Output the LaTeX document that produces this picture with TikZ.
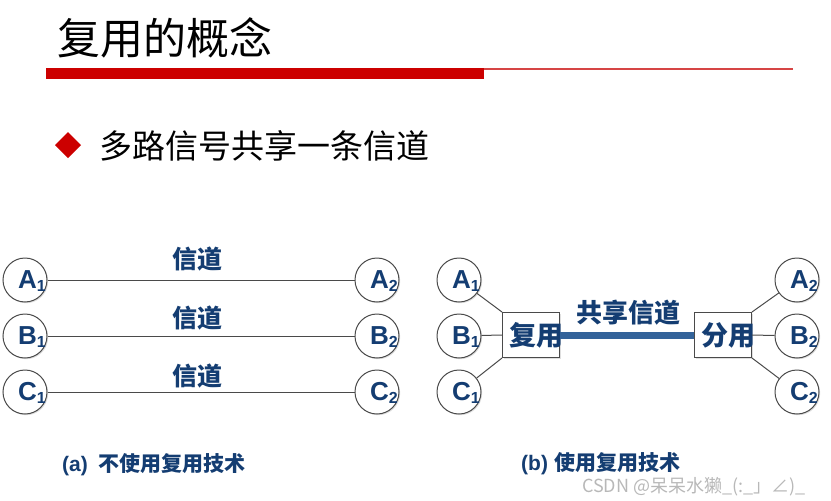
\documentclass[tikz,border=0pt]{standalone}
\usepackage{fontspec}
\setmainfont{Liberation Sans}
\newfontfamily\cjk{Noto Sans CJK SC}
\usetikzlibrary{shadows}
\definecolor{navy}{HTML}{143D72}
\definecolor{titlered}{HTML}{CC0000}
\definecolor{thinred}{HTML}{D64545}
\definecolor{chan}{HTML}{33639A}
\definecolor{edge}{HTML}{4A4A4A}
\definecolor{wm}{HTML}{B8B8B8}
\tikzset{
  term/.style={circle, draw=edge, line width=1pt, fill=white, minimum size=44pt, inner sep=0pt,
    drop shadow={opacity=0.25, shadow xshift=1.2pt, shadow yshift=-1.2pt}},
  lbl/.style={inner sep=0pt, anchor=base west, text=navy, font=\bfseries\fontsize{26}{26}\selectfont},
  conn/.style={draw=edge, line width=1pt},
  box/.style={draw=edge, line width=1pt, fill=white, minimum width=57pt, minimum height=45pt, inner sep=0pt,
    drop shadow={opacity=0.25, shadow xshift=1.2pt, shadow yshift=-1.2pt}},
  boxtext/.style={inner sep=0pt, text=navy, font=\cjk\bfseries\fontsize{27}{27}\selectfont},
  chlabel/.style={inner sep=0pt, anchor=base, text=navy, font=\cjk\bfseries\fontsize{25}{25}\selectfont},
  caption/.style={inner sep=0pt, anchor=base west, text=navy, font=\bfseries\fontsize{21}{21}\selectfont},
}
\newcommand{\tl}[2]{#1\raisebox{-3pt}{\fontsize{16}{16}\selectfont #2}}
\begin{document}
\begin{tikzpicture}[x=1pt,y=-1pt]
\useasboundingbox (0,0) rectangle (831,501);
% title
\node[inner sep=0pt, anchor=base west, font=\cjk\fontsize{43}{43}\selectfont] (title) at (57,54) {复用的概念};
\fill[titlered] (46,68) rectangle (484,79);
\draw[thinred, line width=1.3pt] (484,69) -- (793,69);
% bullet
\fill[titlered] (55,145) -- (68,132) -- (81,145) -- (68,158) -- cycle;
\node[inner sep=0pt, anchor=base west, font=\cjk\fontsize{33}{33}\selectfont] (bullet) at (99,158) {多路信号共享一条信道};

% ---------- (a) ----------
\foreach \n/\y in {A/280,B/336,C/392}{
  \node[term] (\n L1) at (25,\y) {};
  \node[term] (\n L2) at (377,\y) {};
}
\foreach \n in {A,B,C}{
  \draw[conn] (\n L1) -- (\n L2);
}
\node[lbl] (tA1) at (18,288) {\tl{A}{1}};
\node[lbl] (tB1) at (18,344) {\tl{B}{1}};
\node[lbl] (tC1) at (18,400) {\tl{C}{1}};
\node[lbl] (tA2) at (370,288) {\tl{A}{2}};
\node[lbl] (tB2) at (370,344) {\tl{B}{2}};
\node[lbl] (tC2) at (370,400) {\tl{C}{2}};
\node[chlabel] (ch1) at (197,268) {信道};
\node[chlabel] (ch2) at (197,327) {信道};
\node[chlabel] (ch3) at (197,385) {信道};
\node[caption] (capa) at (62,471) {(a)\hspace{11pt}{\cjk 不使用复用技术}};

% ---------- (b) ----------
\foreach \n/\y in {A/280,B/336,C/392}{
  \node[term] (\n R1) at (459,\y) {};
  \node[term] (\n R2) at (797,\y) {};
}
\node[box] (mux) at (531,335) {};
\node[box] (demux) at (723,335) {};
\node[boxtext] (muxt) at (536,335) {复用};
\node[boxtext] (demuxt) at (728,335) {分用};
\draw[chan, line width=7pt] (mux.east) -- (demux.west);
\draw[conn] (AR1) -- (mux.north west);
\draw[conn] (BR1) -- (mux.west);
\draw[conn] (CR1) -- (mux.south west);
\draw[conn] (AR2) -- (demux.north east);
\draw[conn] (BR2) -- (demux.east);
\draw[conn] (CR2) -- (demux.south east);
\node[lbl] (uA1) at (452,288) {\tl{A}{1}};
\node[lbl] (uB1) at (452,344) {\tl{B}{1}};
\node[lbl] (uC1) at (452,400) {\tl{C}{1}};
\node[lbl] (uA2) at (790,288) {\tl{A}{2}};
\node[lbl] (uB2) at (790,344) {\tl{B}{2}};
\node[lbl] (uC2) at (790,400) {\tl{C}{2}};
\node[chlabel, font=\cjk\bfseries\fontsize{26}{26}\selectfont] (share) at (628,322) {共享信道};
\node[caption] (capb) at (521,470) {(b)\hspace{6pt}{\cjk 使用复用技术}};
% watermark
\node[inner sep=0pt, anchor=base west, text=wm, font=\cjk\fontsize{18}{18}\selectfont] (wmark) at (582,492) {CSDN @呆呆水獭\_(:\_」∠)\_};
\end{tikzpicture}
\end{document}
